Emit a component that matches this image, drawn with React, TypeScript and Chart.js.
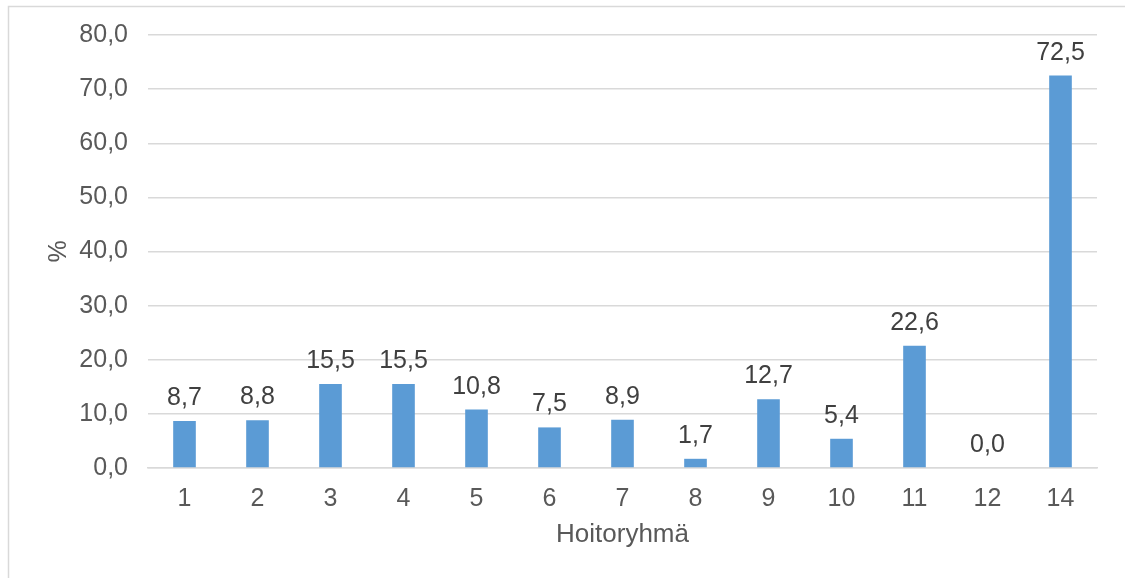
import React, { useEffect, useRef } from "react";
import { Chart, registerables } from "chart.js";

Chart.register(...registerables);

// Hoitoryhmät ja niiden osuudet (%)
const categories = ["1", "2", "3", "4", "5", "6", "7", "8", "9", "10", "11", "12", "14"];
const values = [8.7, 8.8, 15.5, 15.5, 10.8, 7.5, 8.9, 1.7, 12.7, 5.4, 22.6, 0.0, 72.5];
const yTicks = [0, 10, 20, 30, 40, 50, 60, 70, 80];

const FONT = "'Liberation Sans', Arial, sans-serif";
const TEXT = "#595959";
const LABEL = "#404040";
const GRID = "#D9D9D9";
const BAR = "#5B9BD5";

const fmt = (v: number) => v.toFixed(1).replace(".", ",");

// Frame lines along the left and top edges of the chart
const framePlugin = {
  id: "frame",
  beforeDraw(chart: any) {
    const ctx = chart.ctx;
    ctx.save();
    ctx.fillStyle = "#ffffff";
    ctx.fillRect(0, 0, chart.width, chart.height);
    ctx.strokeStyle = GRID;
    ctx.lineWidth = 1.5;
    ctx.beginPath();
    ctx.moveTo(8.5, chart.height);
    ctx.lineTo(8.5, 6.5);
    ctx.lineTo(chart.width, 6.5);
    ctx.stroke();
    ctx.restore();
  },
};

// Value labels above each bar
const valueLabels = {
  id: "valueLabels",
  afterDatasetsDraw(chart: any) {
    const ctx = chart.ctx;
    const meta = chart.getDatasetMeta(0);
    ctx.save();
    ctx.font = `25px ${FONT}`;
    ctx.fillStyle = LABEL;
    ctx.textAlign = "center";
    ctx.textBaseline = "alphabetic";
    meta.data.forEach((bar: any, i: number) => {
      ctx.fillText(fmt(values[i]), bar.x, bar.y - 16);
    });
    ctx.restore();
  },
};

export default function App() {
  const ref = useRef<HTMLCanvasElement>(null);

  useEffect(() => {
    document.body.style.margin = "0";
    const canvas = ref.current!;
    const chart = new Chart(canvas, {
      type: "bar",
      data: {
        labels: categories,
        datasets: [
          {
            data: values,
            backgroundColor: BAR,
            barPercentage: 0.62,
            categoryPercentage: 0.5,
          },
        ],
      },
      options: {
        responsive: false,
        animation: false,
        devicePixelRatio: 1,
        layout: { padding: { left: 0, right: 28, top: 35, bottom: 0 } },
        plugins: {
          legend: { display: false },
          tooltip: { enabled: false },
        },
        scales: {
          x: {
            grid: { display: false, drawTicks: false },
            border: { display: true, color: GRID, width: 1.5 },
            ticks: {
              color: TEXT,
              font: { family: FONT, size: 25 },
              padding: 16,
              maxRotation: 0,
              autoSkip: false,
            },
            title: {
              display: true,
              text: "Hoitoryhmä",
              color: TEXT,
              font: { family: FONT, size: 26 },
              padding: { top: 0, bottom: 28 },
            },
            afterFit(scale: any) {
              scale.height = 578 - 468;
            },
          },
          y: {
            min: 0,
            max: 80,
            afterBuildTicks(scale: any) {
              scale.ticks = yTicks.map((v) => ({ value: v }));
            },
            grid: { color: GRID, lineWidth: 1.5, drawTicks: false },
            border: { display: false },
            ticks: {
              color: TEXT,
              font: { family: FONT, size: 25 },
              padding: 20,
              callback: (v: any) => fmt(Number(v)),
            },
            title: {
              display: true,
              text: "%",
              color: TEXT,
              font: { family: FONT, size: 25 },
              padding: { top: 44, bottom: 0 },
            },
            afterFit(scale: any) {
              scale.width = 148;
            },
          },
        },
      },
      plugins: [framePlugin, valueLabels],
    });
    return () => chart.destroy();
  }, []);

  return (
    <div style={{ width: 1125, height: 578 }}>
      <canvas ref={ref} width={1125} height={578} style={{ display: "block" }} />
    </div>
  );
}
